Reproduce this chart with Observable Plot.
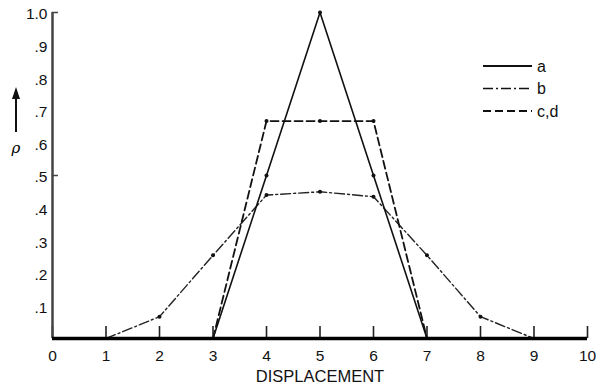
<!DOCTYPE html>
<html>
<head>
<meta charset="utf-8">
<script src="https://cdn.jsdelivr.net/npm/d3@7"></script>
<script src="https://cdn.jsdelivr.net/npm/@observablehq/plot@0.6"></script>
<style>
  body { margin: 0; background: #fff; font-family: "Liberation Sans", Arial, sans-serif; }
  #wrap { position: relative; width: 601px; height: 388px; }
  #chart text { font-size: 15.5px; font-family: "Liberation Sans", Arial, sans-serif; fill: #111; }
  #chart g[aria-label="text"] text { font-size: 16.5px; }
  #legend { position: absolute; left: 480px; top: 56px; }
  #ylab { position: absolute; left: 6px; top: 86px; }
</style>
</head>
<body>
<div id="wrap">
  <div id="chart"></div>
  <svg id="legend" width="100" height="70"></svg>
  <svg id="ylab" width="24" height="80"></svg>
</div>
<script>
const xA = [3, 4, 5, 6, 7];
const yA = [0, 0.5, 1.0, 0.5, 0];
const xB = [1, 2, 3, 4, 5, 6, 7, 8, 9];
const yB = [0, 0.067, 0.255, 0.44, 0.45, 0.435, 0.255, 0.067, 0];
const xC = [3, 4, 5, 6, 7];
const yC = [0, 0.667, 0.667, 0.667, 0];
const seriesNames = ["a", "b", "c,d"];
const xTicks = [0, 1, 2, 3, 4, 5, 6, 7, 8, 9, 10];
const yTicks = [0.1, 0.2, 0.3, 0.4, 0.5, 0.6, 0.7, 0.8, 0.9, 1.0];
const yTickMarks = [0.5, 1.0];
const xLabel = "DISPLACEMENT";

const A = xA.map((x, i) => ({x, y: yA[i]}));
const B = xB.map((x, i) => ({x, y: yB[i]}));
const C = xC.map((x, i) => ({x, y: yC[i]}));
const inner = d => d.y > 0;

const styles = [
  {dash: null},
  {dash: "10,3,2,3"},
  {dash: "8,4"}
];

const chart = Plot.plot({
  width: 601,
  height: 388,
  marginLeft: 52,
  marginRight: 14,
  marginTop: 12,
  marginBottom: 50,
  style: {fontFamily: "Liberation Sans, Arial, sans-serif", fontSize: "15.5px", color: "#111"},
  x: {domain: [0, 10]},
  y: {domain: [0, 1.0]},
  marks: [
    Plot.axisX({ticks: xTicks, tickSize: 12, dy: -12, text: null, label: null, strokeWidth: 1.6, stroke: "#222"}),
    Plot.axisX({ticks: xTicks, tickSize: 0, tickPadding: 11, label: null}),
    Plot.axisY({ticks: yTicks, tickSize: 0, tickPadding: 5, dy: 2, label: null,
      tickFormat: d => d === 1 ? "1.0" : d3.format(".1f")(d).replace(/^0/, "")}),
    Plot.axisY({ticks: yTickMarks, tickSize: 6, dx: 6, text: null, label: null, strokeWidth: 1.5, stroke: "#444"}),
    Plot.ruleX([0], {stroke: "#444", strokeWidth: 2.5}),
    Plot.line(B, {x: "x", y: "y", stroke: "#222", strokeWidth: 1.4, strokeDasharray: styles[1].dash}),
    Plot.line(C, {x: "x", y: "y", stroke: "#111", strokeWidth: 1.8, strokeDasharray: styles[2].dash}),
    Plot.line(A, {x: "x", y: "y", stroke: "#111", strokeWidth: 1.6}),
    Plot.dot(A.filter(inner), {x: "x", y: "y", r: 2, fill: "#111"}),
    Plot.dot(B.filter(inner), {x: "x", y: "y", r: 2, fill: "#111"}),
    Plot.dot(C.filter(inner), {x: "x", y: "y", r: 2, fill: "#111"}),
    Plot.ruleY([0], {stroke: "#000", strokeWidth: 3.5}),
    Plot.text([xLabel], {frameAnchor: "bottom", dy: 43, text: d => d})
  ]
});
document.getElementById("chart").appendChild(chart);

// legend
const lg = d3.select("#legend");
seriesNames.forEach((name, i) => {
  const y = 10 + i * 22.5;
  lg.append("line").attr("x1", 3).attr("x2", 52).attr("y1", y).attr("y2", y)
    .attr("stroke", "#111").attr("stroke-width", i === 1 ? 1.4 : 1.8)
    .attr("stroke-dasharray", styles[i].dash);
  lg.append("text").attr("x", 57).attr("y", y + 5.5).attr("font-size", 16)
    .attr("font-family", "Liberation Sans, Arial, sans-serif").attr("fill", "#111").text(name);
});

// y label: arrow and rho
const yl = d3.select("#ylab");
yl.append("line").attr("x1", 10).attr("x2", 10).attr("y1", 46).attr("y2", 8)
  .attr("stroke", "#111").attr("stroke-width", 2);
yl.append("path").attr("d", "M6,13 L10,1 L14,13 Z").attr("fill", "#111");
yl.append("text").attr("x", 10).attr("y", 67).attr("text-anchor", "middle")
  .attr("font-size", 15).attr("font-style", "italic")
  .attr("font-family", "DejaVu Serif, serif").text("ρ");
</script>
</body>
</html>
